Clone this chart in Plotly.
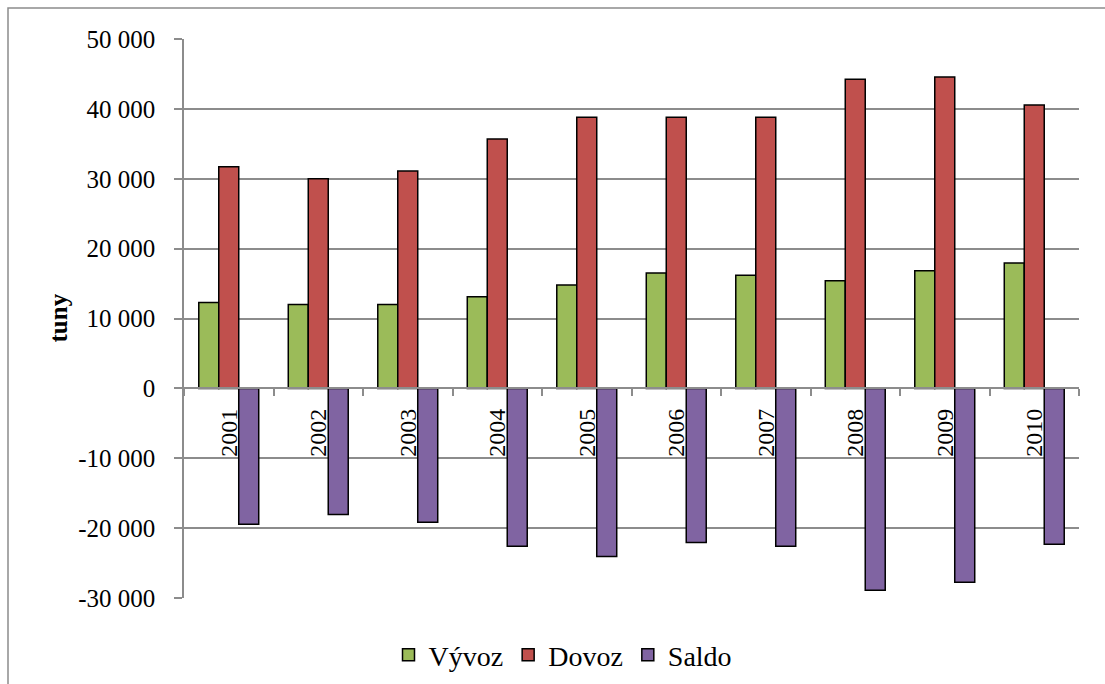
import plotly.graph_objects as go

years = ["2001", "2002", "2003", "2004", "2005", "2006", "2007", "2008", "2009", "2010"]
vyvoz = [12300, 12000, 12000, 13100, 14800, 16500, 16200, 15400, 16850, 17950]
dovoz = [31700, 30000, 31100, 35700, 38800, 38800, 38800, 44250, 44550, 40550]
saldo = [-19450, -18050, -19150, -22600, -24050, -22050, -22600, -28900, -27750, -22300]

y_tickvals = [-30000, -20000, -10000, 0, 10000, 20000, 30000, 40000, 50000]
y_ticktext = ["-30 000", "-20 000", "-10 000", "0", "10 000", "20 000", "30 000", "40 000", "50 000"]

FONT = "Liberation Serif"
GRID = "#8c8c8c"

fig = go.Figure()
for name, vals, col in [("Vývoz", vyvoz, "#9BBB59"), ("Dovoz", dovoz, "#C0504D"), ("Saldo", saldo, "#8064A2")]:
    fig.add_trace(go.Bar(x=years, y=vals, name=name,
                         marker=dict(color=col, line=dict(color="black", width=1.5))))

W, H = 1105, 684
L, R, T, B = 184, 26, 39, 86
pw, ph = W - L - R, H - T - B

def px_x(p):
    return (p - L) / pw

def px_y(p):
    return (H - B - p) / ph

fig.update_layout(
    width=W, height=H,
    margin=dict(l=L, r=R, t=T, b=B, autoexpand=False),
    paper_bgcolor="white", plot_bgcolor="white",
    font=dict(family=FONT, color="black", size=25),
    barmode="group", bargap=0.33, bargroupgap=0,
    showlegend=True,
    legend=dict(orientation="h", x=px_x(563), y=px_y(655), xanchor="center", yanchor="middle",
                font=dict(size=28, family=FONT, color="black"), itemwidth=30, tracegroupgap=0,
                bgcolor="rgba(0,0,0,0)"),
    xaxis=dict(type="category", anchor="free", position=0.375,
               showline=True, linecolor=GRID, linewidth=1.5,
               ticks="outside", tickson="boundaries", ticklen=7, tickcolor=GRID, tickwidth=1.5,
               tickangle=-90, tickfont=dict(size=24, family=FONT, color="black"), showgrid=False,
               ticklabelstandoff=10),
    yaxis=dict(range=[-30000, 50000], tickvals=y_tickvals, ticktext=y_ticktext,
               showline=True, linecolor=GRID, linewidth=1.5,
               ticks="outside", ticklen=8, tickcolor=GRID, tickwidth=1.5,
               showgrid=True, gridcolor=GRID, gridwidth=1.5, zeroline=False,
               tickfont=dict(size=25, family=FONT, color="black"), ticklabelstandoff=14),
    shapes=[dict(type="rect", xref="paper", yref="paper",
                 x0=px_x(8), x1=px_x(1115), y0=px_y(700), y1=px_y(8),
                 line=dict(color=GRID, width=1.5), fillcolor="rgba(0,0,0,0)", layer="below")],
    annotations=[dict(text="<b>tuny</b>", xref="paper", yref="paper", x=px_x(58), y=0.5,
                      xanchor="center", yanchor="middle", textangle=-90, showarrow=False,
                      font=dict(size=25, family=FONT, color="black"))],
)

fig.write_html("out.html")
